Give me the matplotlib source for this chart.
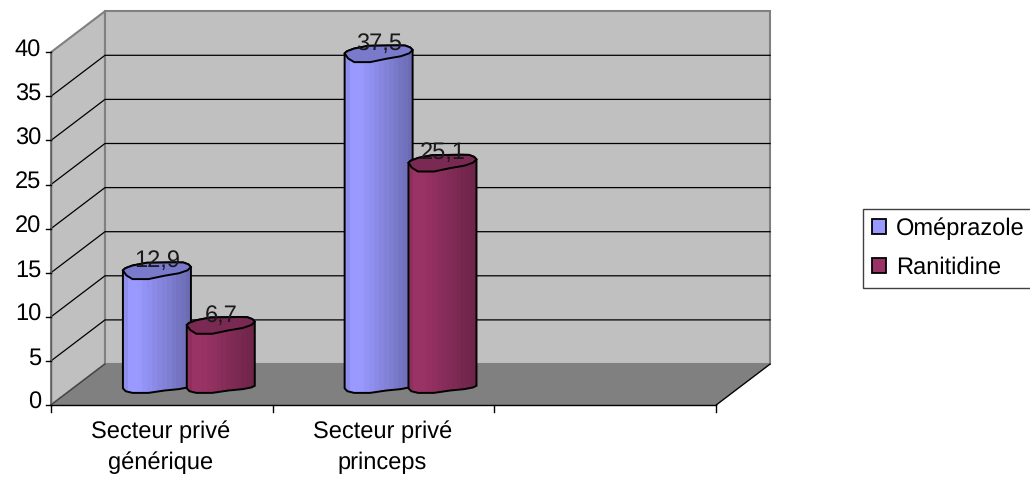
import matplotlib
matplotlib.use('Agg')
import matplotlib.pyplot as plt
import numpy as np
from matplotlib.colors import to_rgb
from matplotlib.patches import Polygon, Rectangle

plt.rcParams['font.family'] = ['Liberation Sans', 'DejaVu Sans']
plt.rcParams['text.hinting'] = 'none'

categories = ['Secteur privé\ngénérique', 'Secteur privé\nprinceps', '']
series_names = ['Oméprazole', 'Ranitidine']
omeprazole = [12.9, 37.5, None]
ranitidine = [6.7, 25.1, None]
value_labels = {'Oméprazole': ['12,9', '37,5', ''], 'Ranitidine': ['6,7', '25,1', '']}
y_ticks = [0, 5, 10, 15, 20, 25, 30, 35, 40]

# chart scale: px per category / px per y unit, and where the origin sits
CAT_W = 221.7
VAL_H = 8.82
X0, Y0 = 51, 405
DX, DY = 54 / CAT_W, 41 / VAL_H   # depth of the 3d box in data units
W, H = 1030, 478

BAR_HW = 34 / CAT_W
BAR_HH = 0.95
BAR_OFF = 0.144
FONT = 17

colors = {
    'Oméprazole': dict(face='#9999FF', dark='#6C6CB4', top='#7A7ACC'),
    'Ranitidine': dict(face='#993366', dark='#6E2549', top='#7A2952'),
}

# irregular outline of the low-poly cylinder caps
top_u = np.array([-1, -0.93, -0.72, -0.3, 0.55, 0.78, 0.93, 1, 0.9, 0.65, 0.22, -0.25, -0.72, -0.9, -1])
top_v = np.array([0.05, 0.3, 0.62, 0.95, 1, 0.98, 0.75, 0.45, 0.05, -0.3, -0.6, -1, -1, -0.55, 0.05])
bot_u = np.array([1, 1, 0.9, 0.65, 0.22, -0.25, -0.72, -0.92, -1, -1])
bot_v = np.array([0.45, -0.15, -0.35, -0.55, -0.72, -1, -1, -0.8, -0.45, 0.05])


def project(x, y, depth=0.0):
    return x + DX * depth, y + DY * depth


fig = plt.figure(figsize=(W / 100, H / 100), dpi=100)
ax = fig.add_axes([0, 0, 1, 1])
xlim = (-X0 / CAT_W, (W - X0) / CAT_W)
ylim = ((Y0 - H) / VAL_H, Y0 / VAL_H)
ax.axis('off')

n_cat = len(categories)
y_top = y_ticks[-1]

# walls and floor
left_wall = [project(0, 0), project(0, 0, 1), project(0, y_top, 1), project(0, y_top)]
back_wall = [project(0, 0, 1), project(n_cat, 0, 1), project(n_cat, y_top, 1), project(0, y_top, 1)]
floor = [project(0, 0), project(n_cat, 0), project(n_cat, 0, 1), project(0, 0, 1)]
ax.add_patch(Polygon(left_wall, fc='#C0C0C0', ec='#808080', lw=1.5, zorder=1))
ax.add_patch(Polygon(back_wall, fc='#C0C0C0', ec='#808080', lw=1.5, zorder=1))
ax.add_patch(Polygon(floor, fc='#808080', ec='#808080', lw=1, zorder=1))

# gridlines, the top one is just the grey wall edge
for t in y_ticks[1:-1]:
    a, b, c = project(0, t), project(0, t, 1), project(n_cat, t, 1)
    ax.plot([a[0], b[0], c[0]], [a[1], b[1], c[1]], color='black', lw=0.9, zorder=2)
a, b = project(n_cat, 0), project(n_cat, 0, 1)
ax.plot([a[0], b[0]], [a[1], b[1]], color='black', lw=0.9, zorder=2)
a, b = project(0, 0), project(0, 0, 1)
ax.plot([a[0], b[0]], [a[1], b[1]], color='#404040', lw=0.9, zorder=2)

# axes lines and ticks
ax.plot([0, 0], [0, y_top], color='#606060', lw=1, zorder=2)
ax.plot([0, n_cat], [0, 0], color='black', lw=1, zorder=2)
for t in y_ticks:
    ax.plot([-5 / CAT_W, 0], [t, t], color='black', lw=1, zorder=2)
    ax.text(-10 / CAT_W, t + 2 / VAL_H, str(t), ha='right', va='center', fontsize=FONT, color='black')
for i in range(n_cat + 1):
    ax.plot([i, i], [0, -7 / VAL_H], color='black', lw=1, zorder=2)
for i, c in enumerate(categories):
    ax.text(i + 0.5 - 0.005, -15 / VAL_H, c, ha='center', va='top', fontsize=FONT,
            linespacing=1.5, color='black')


def draw_bar(x, val, name, label, z):
    col = colors[name]
    cx, base = project(x, 0, 0.5)
    top = base + val
    n_up = 8  # points of the cap outline down to the right edge
    body = np.vstack([
        np.column_stack([cx + top_u[:n_up] * BAR_HW, top + top_v[:n_up] * BAR_HH]),
        np.column_stack([cx + bot_u * BAR_HW, base + bot_v * BAR_HH]),
    ])
    ax.add_patch(Polygon(body, fc='none', ec='black', lw=1.4, zorder=z + 0.2))

    # banded shading across the cylinder
    u = np.linspace(0, 1, 14)
    face, dark = np.array(to_rgb(col['face'])), np.array(to_rgb(col['dark']))
    shade = np.clip((u - 0.22) / 0.78, 0, 1)[:, None]
    strip = (face * (1 - shade) + dark * shade)[None, :, :]
    strip[0, 0] = face * 0.93
    im = ax.imshow(strip, extent=(cx - BAR_HW, cx + BAR_HW, base - BAR_HH, top + BAR_HH),
                   aspect='auto', interpolation='nearest', origin='lower', zorder=z)
    im.set_clip_path(Polygon(body, transform=ax.transData))

    cap = np.column_stack([cx + top_u * BAR_HW, top + top_v * BAR_HH])
    ax.add_patch(Polygon(cap, fc=col['top'], ec='black', lw=1.4, zorder=z + 0.3))
    ax.text(cx, top + 1.15, label, ha='center', va='center', fontsize=FONT, color='#1a1a1a', zorder=20)


for i in range(n_cat):
    if omeprazole[i] is not None:
        draw_bar(i + 0.5 - BAR_OFF, omeprazole[i], series_names[0], value_labels['Oméprazole'][i], 5 + i * 2)
    if ranitidine[i] is not None:
        draw_bar(i + 0.5 + BAR_OFF, ranitidine[i], series_names[1], value_labels['Ranitidine'][i], 6 + i * 2)

ax.set_xlim(xlim)
ax.set_ylim(ylim)

handles = [Rectangle((0, 0), 1, 1, fc=colors[n]['face'], ec='black', lw=1.3) for n in series_names]
leg = fig.legend(handles, series_names, loc='upper left', bbox_to_anchor=(863 / W, 1 - 209 / H),
                 fontsize=FONT, frameon=True, fancybox=False, edgecolor='#404040', framealpha=1,
                 handlelength=0.6, handleheight=0.6, handletextpad=0.45, borderpad=0.36,
                 labelspacing=0.7, borderaxespad=0)
leg.get_frame().set_linewidth(1)

fig.savefig('out.png', dpi=100)
